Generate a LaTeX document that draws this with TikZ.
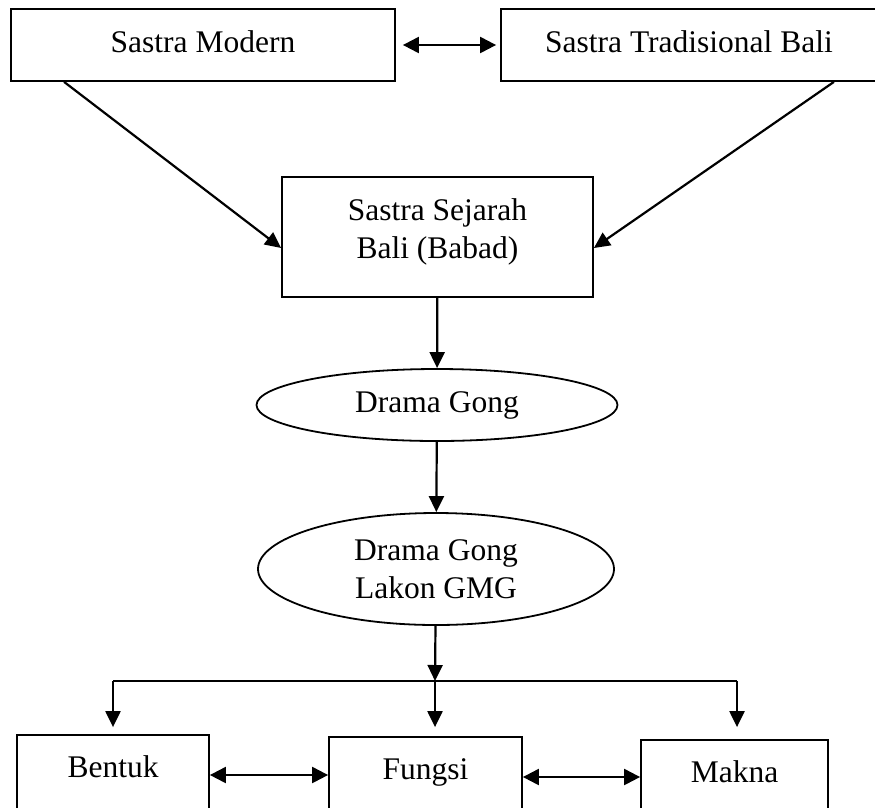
\documentclass[tikz,border=0pt]{standalone}
\usepackage{fontspec}
\setmainfont{Liberation Serif}
\usetikzlibrary{shapes.geometric,arrows.meta}
\begin{document}
\begin{tikzpicture}[x=1pt,y=-1pt,font=\fontsize{31.5}{38}\selectfont]
\tikzstyle{block} = [rectangle, draw=black, line width=1.8pt, inner sep=0pt, text centered]
\tikzstyle{oval} = [ellipse, draw=black, line width=1.8pt, inner sep=0pt, align=center]
\tikzstyle{arrow} = [line width=2.2pt,-{Triangle[length=16pt,width=15pt]}]
\tikzstyle{twoway} = [line width=2.2pt,{Triangle[length=16pt,width=16pt]}-{Triangle[length=16pt,width=16pt]}]
%
\useasboundingbox (0,0) rectangle (875,807);
%
\node (modern)      [block, minimum width=384pt, minimum height=72pt, text height=22pt, text depth=7pt]  at (203,45) {Sastra Modern};
\node (tradisional) [block, minimum width=376pt, minimum height=72pt, text height=22pt, text depth=7pt]  at (689,45) {Sastra Tradisional Bali};
\node (sejarah)     [block, minimum width=311pt, minimum height=120pt, align=center, text height=60pt, text depth=17pt] at (437.5,237) {Sastra Sejarah\\Bali (Babad)};
\node (drama)       [oval,  minimum width=361pt, minimum height=72pt]  at (437,405) {Drama Gong};
\node (lakon)       [oval,  minimum width=356pt, minimum height=112pt] at (436,569) {Drama Gong\\Lakon GMG};
\node (bentuk)      [block, minimum width=192pt, minimum height=80pt, text height=22pt, text depth=17pt] at (113,775)   {Bentuk};
\node (fungsi)      [block, minimum width=193pt, minimum height=80pt, text height=22pt, text depth=17pt] at (425.5,777) {Fungsi};
\node (makna)       [block, minimum width=187pt, minimum height=80pt, text height=22pt, text depth=17pt] at (734.5,780) {Makna};
%
\coordinate (split) at (435,681);
\coordinate (left)  at (113,681);
\coordinate (right) at (737,681);
%
\draw [twoway, shorten <=7pt, shorten >=4pt] (modern.east) -- (tradisional.west);
\draw [arrow]  ([xshift=54pt]modern.south west) -- ([yshift=-11pt]sejarah.west);
\draw [arrow]  ([xshift=-44pt]tradisional.south east) -- ([yshift=-11pt]sejarah.east);
\draw [arrow]  (sejarah) -- (drama);
\draw [arrow]  (drama) -- (lakon);
\draw [arrow]  (lakon) -- (split);
\draw [line width=2.2pt] (left) -- (right);
\draw [arrow, shorten >=7pt]  (left)  -- (left |- bentuk.north);
\draw [arrow, shorten >=9pt]  (split) -- (split |- fungsi.north);
\draw [arrow, shorten >=12pt] (right) -- (right |- makna.north);
\draw [twoway] (bentuk.east) -- (bentuk.east -| fungsi.west);
\draw [twoway] (fungsi.east) -- (fungsi.east -| makna.west);
\end{tikzpicture}
\end{document}
